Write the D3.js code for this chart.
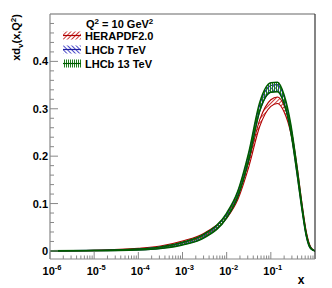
<!DOCTYPE html>
<html lang="en">
<head>
  <meta charset="UTF-8">
  <title>xd_v at Q2 = 10 GeV2</title>
  <script src="https://d3js.org/d3.v7.min.js"></script>
  <style>
    body { margin: 0; background: #fff; }
    text { font-family: "Liberation Sans", Arial, sans-serif; font-weight: bold; }
  </style>
</head>
<body>
<div id="chart"></div>
<script>
  // x grid (Bjorken x) and the three PDF fits
  const xGrid = [1e-6, 1e-5, 1e-4, 3.16e-4, 1e-3, 3.16e-3, 1e-2, 1.78e-2, 3.16e-2, 5.62e-2,
                 0.1, 0.141, 0.2, 0.282, 0.398, 0.501, 0.631, 0.794, 1.0];

  const heraCentral  = [0.0003, 0.001, 0.0045, 0.009, 0.019, 0.035, 0.073, 0.113, 0.183, 0.27,
                        0.312, 0.318, 0.300, 0.255, 0.170, 0.100, 0.040, 0.008, 0];
  const heraErr      = [0.0002, 0.0005, 0.001, 0.0015, 0.002, 0.003, 0.004, 0.005, 0.006, 0.007,
                        0.007, 0.007, 0.007, 0.006, 0.005, 0.004, 0.002, 0.001, 0];

  const lhcb7Central = [0.0002, 0.0008, 0.003, 0.0068, 0.0155, 0.032, 0.074, 0.119, 0.198, 0.302,
                        0.342, 0.344, 0.318, 0.258, 0.163, 0.094, 0.034, 0.006, 0];
  const lhcb7Err     = [0.0002, 0.0004, 0.001, 0.0015, 0.002, 0.003, 0.004, 0.005, 0.006, 0.007,
                        0.007, 0.007, 0.007, 0.006, 0.005, 0.003, 0.002, 0.001, 0];

  const lhcb13Central = [0.0002, 0.0008, 0.003, 0.0068, 0.0155, 0.032, 0.075, 0.12, 0.20, 0.305,
                         0.345, 0.346, 0.320, 0.260, 0.165, 0.095, 0.035, 0.006, 0];
  const lhcb13Err     = [0.0002, 0.0005, 0.001, 0.0018, 0.003, 0.004, 0.005, 0.006, 0.008, 0.009,
                         0.010, 0.010, 0.009, 0.008, 0.006, 0.004, 0.002, 0.001, 0];

  const seriesNames = ["HERAPDF2.0", "LHCb 7 TeV", "LHCb 13 TeV"];
  const yMajorTicks = [0, 0.1, 0.2, 0.3, 0.4];
  const xMajorExp = [-6, -5, -4, -3, -2, -1];

  const width = 332, height = 288;
  const mLeft = 50, mRight = 315, mTop = 14, mBottom = 259;

  const svg = d3.select("#chart").append("svg")
    .attr("width", width).attr("height", height)
    .style("display", "block");

  const x = d3.scaleLog().domain([1e-6, 1]).range([mLeft, mRight]);
  const y = d3.scaleLinear().domain([-0.017, 0.5]).range([mBottom, mTop]);

  const styles = [
    { name: seriesNames[0], c: heraCentral,  e: heraErr,   line: "#b00000", hatch: "#cc3a3a", rot: 45,  gap: 3, lw: 1.1, id: "hRed" },
    { name: seriesNames[1], c: lhcb7Central, e: lhcb7Err,  line: "#1f1fa0", hatch: "#4a4ac8", rot: -45, gap: 3, lw: 1.1, id: "hBlue" },
    { name: seriesNames[2], c: lhcb13Central, e: lhcb13Err, line: "#005c00", hatch: "#1e7d1e", rot: 0,  gap: 2, lw: 1.5, id: "hGreen" }
  ];

  // hatch patterns like ROOT fill styles
  const defs = svg.append("defs");
  styles.forEach(s => {
    const p = defs.append("pattern")
      .attr("id", s.id)
      .attr("patternUnits", "userSpaceOnUse")
      .attr("width", s.gap).attr("height", s.gap)
      .attr("patternTransform", `rotate(${s.rot})`);
    p.append("line")
      .attr("x1", 0.5).attr("y1", 0).attr("x2", 0.5).attr("y2", s.gap)
      .attr("stroke", s.hatch).attr("stroke-width", 1);
  });
  defs.append("clipPath").attr("id", "frameClip")
    .append("rect").attr("x", mLeft).attr("y", mTop)
    .attr("width", mRight - mLeft).attr("height", mBottom - mTop);

  // bands
  const plot = svg.append("g").attr("clip-path", "url(#frameClip)");
  styles.forEach(s => {
    const pts = xGrid.map((xv, i) => ({ x: xv, c: s.c[i], lo: s.c[i] - s.e[i], hi: s.c[i] + s.e[i] }));
    const area = d3.area()
      .x(d => x(d.x)).y0(d => y(d.lo)).y1(d => y(d.hi))
      .curve(d3.curveMonotoneX);
    const lineHi = d3.line().x(d => x(d.x)).y(d => y(d.hi)).curve(d3.curveMonotoneX);
    const lineLo = d3.line().x(d => x(d.x)).y(d => y(d.lo)).curve(d3.curveMonotoneX);

    plot.append("path").datum(pts)
      .attr("d", area).attr("fill", `url(#${s.id})`);
    [lineHi, lineLo].forEach(l => {
      plot.append("path").datum(pts)
        .attr("d", l).attr("fill", "none")
        .attr("stroke", s.line).attr("stroke-width", s.lw);
    });
  });

  // frame
  svg.append("line").attr("x1", mLeft).attr("x2", mRight).attr("y1", mTop).attr("y2", mTop)
    .attr("stroke", "#999").attr("stroke-width", 1.5);
  svg.append("line").attr("x1", mRight).attr("x2", mRight).attr("y1", mTop).attr("y2", mBottom)
    .attr("stroke", "#333").attr("stroke-width", 1.2);

  // y axis
  const yAxis = svg.append("g");
  yAxis.append("line").attr("x1", mLeft).attr("x2", mLeft).attr("y1", mTop).attr("y2", mBottom)
    .attr("stroke", "#888").attr("stroke-width", 1.2);
  d3.range(0, 0.5, 0.02).forEach(v => {
    const major = yMajorTicks.some(m => Math.abs(m - v) < 1e-6);
    yAxis.append("line")
      .attr("x1", mLeft).attr("x2", mLeft + (major ? 8 : 4))
      .attr("y1", y(v)).attr("y2", y(v))
      .attr("stroke", "#888").attr("stroke-width", 1);
  });
  yMajorTicks.forEach(v => {
    yAxis.append("text")
      .attr("x", mLeft - 2).attr("y", y(v) + 4)
      .attr("text-anchor", "end").attr("font-size", 11)
      .text(v === 0 ? "0" : d3.format(".1f")(v));
  });

  // x axis
  const xAxis = svg.append("g");
  xAxis.append("line").attr("x1", mLeft).attr("x2", mRight).attr("y1", mBottom).attr("y2", mBottom)
    .attr("stroke", "#888").attr("stroke-width", 1.2);
  xMajorExp.concat([0]).forEach(p => {
    const base = Math.pow(10, p);
    xAxis.append("line")
      .attr("x1", x(base)).attr("x2", x(base))
      .attr("y1", mBottom).attr("y2", mBottom - 7)
      .attr("stroke", "#888");
    if (p < 0) {
      d3.range(2, 10).forEach(m => {
        xAxis.append("line")
          .attr("x1", x(base * m)).attr("x2", x(base * m))
          .attr("y1", mBottom).attr("y2", mBottom - 3.5)
          .attr("stroke", "#888");
      });
    }
  });
  xMajorExp.forEach(p => {
    const t = xAxis.append("text")
      .attr("x", x(Math.pow(10, p)) + 2).attr("y", 274.5)
      .attr("text-anchor", "middle").attr("font-size", 11);
    t.append("tspan").text("10");
    t.append("tspan").attr("dy", -4.5).attr("font-size", 7.5).text(String(p));
  });

  svg.append("text")
    .attr("x", 301).attr("y", 284)
    .attr("text-anchor", "middle").attr("font-size", 12)
    .text("x");

  // y title
  const yt = svg.append("text")
    .attr("transform", `translate(20, ${mTop}) rotate(-90)`)
    .attr("text-anchor", "end").attr("font-size", 11);
  yt.append("tspan").text("xd");
  yt.append("tspan").attr("dy", 3).attr("font-size", 8).text("v");
  yt.append("tspan").attr("dy", -3).text("(x,Q");
  yt.append("tspan").attr("dy", -4).attr("font-size", 8).text("2");
  yt.append("tspan").attr("dy", 4).text(")");

  // legend
  const lg = svg.append("g");
  const hdr = lg.append("text").attr("x", 86).attr("y", 27.5).attr("font-size", 11);
  hdr.append("tspan").text("Q");
  hdr.append("tspan").attr("dy", -4).attr("font-size", 8).text("2");
  hdr.append("tspan").attr("dy", 4).text(" = 10 GeV");
  hdr.append("tspan").attr("dy", -4).attr("font-size", 8).text("2");

  styles.forEach((s, i) => {
    const cy = 35.5 + i * 14;
    lg.append("rect")
      .attr("x", 63).attr("y", cy - 4).attr("width", 18).attr("height", 8)
      .attr("fill", `url(#${s.id})`);
    lg.append("line")
      .attr("x1", 63).attr("x2", 81).attr("y1", cy).attr("y2", cy)
      .attr("stroke", s.line).attr("stroke-width", 1.2);
    lg.append("text")
      .attr("x", 85).attr("y", cy + 4).attr("font-size", 11)
      .text(s.name);
  });
</script>
</body>
</html>
